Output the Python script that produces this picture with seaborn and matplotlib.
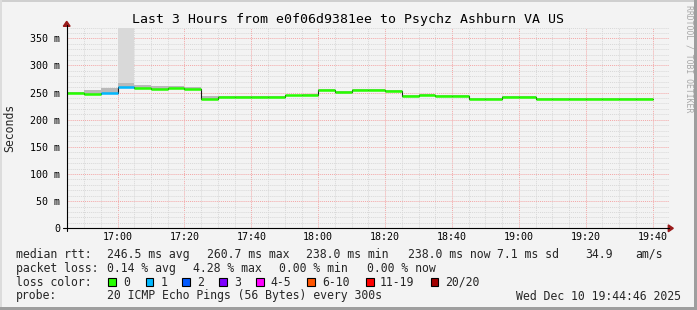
import numpy as np
import pandas as pd
import matplotlib
matplotlib.use("Agg")
import matplotlib.pyplot as plt
import matplotlib.dates as mdates
from matplotlib.lines import Line2D
from matplotlib.patches import Rectangle, Polygon
import seaborn as sns

# ---------------- data ----------------
day = "2025-12-10 "
interval_start = ["16:45", "16:50", "16:55", "17:00", "17:05", "17:10", "17:15", "17:20",
                  "17:25", "17:30", "17:35", "17:40", "17:45", "17:50", "17:55",
                  "18:00", "18:05", "18:10", "18:15", "18:20", "18:25", "18:30", "18:35", "18:40",
                  "18:45", "18:50", "18:55", "19:00", "19:05", "19:10", "19:15",
                  "19:20", "19:25", "19:30", "19:35"]
data_end = "19:40"
median_ms = [248.5, 246.8, 249.5, 260.7, 259.2, 257.4, 258.7, 256.3,
             238.9, 242.2, 242.8, 242.4, 242.8, 245.0, 246.4,
             255.0, 251.4, 254.5, 254.5, 253.2, 244.4, 246.2, 243.7, 243.7,
             239.0, 239.0, 241.8, 241.8, 239.0, 239.0, 239.0,
             238.0, 238.0, 238.0, 238.0]
smoke_top_ms = [252.0, 254.0, 258.0, 267.5, 264.0, 263.0, 263.0, 261.0,
                243.5, 244.0, 244.5, 244.0, 244.5, 246.5, 248.0,
                256.5, 253.0, 256.0, 256.0, 254.5, 246.0, 247.5, 245.0, 245.0,
                240.5, 240.5, 243.0, 243.0, 240.5, 240.5, 240.5,
                239.5, 239.5, 239.5, 239.5]
loss_pings = [0, 0, 1, 1, 0, 0, 0, 0,
              0, 0, 0, 0, 0, 0, 0,
              0, 0, 0, 0, 0, 0, 0, 0, 0,
              0, 0, 0, 0, 0, 0, 0,
              0, 0, 0, 0]
loss_band_start = ["17:00"]
loss_band_end = ["17:05"]
loss_band_bottom_ms = [268.0]

loss_labels = ["0", "1", "2", "3", "4-5", "6-10", "11-19", "20/20"]
loss_colors = ["#26ff00", "#00b8ff", "#0059ff", "#7e00ff", "#ff00ff", "#ff5500", "#ff0000", "#a10000"]

y_ticks = [0, 50, 100, 150, 200, 250, 300, 350]
y_tick_labels = ["0", "50 m", "100 m", "150 m", "200 m", "250 m", "300 m", "350 m"]

title = "Last 3 Hours from e0f06d9381ee to Psychz Ashburn VA US"
stats_rtt = ["246.5 ms avg", "260.7 ms max", "238.0 ms min", "238.0 ms now", "7.1 ms sd", "34.9", "am/s"]
stats_loss = ["0.14 % avg", "4.28 % max", "0.00 % min", "0.00 % now"]
probe_text = "20 ICMP Echo Pings (56 Bytes) every 300s"
date_text = "Wed Dec 10 19:44:46 2025"
view_start = "16:44:46"
view_end = "19:44:46"

# ---------------- setup ----------------
sns.set_theme(style="white")
plt.rcParams["font.family"] = ["DejaVu Sans Mono"]
BG = "#f3f3f3"
W, H = 697, 310

def fx(px):
    return px / W

def fy(py):
    return 1 - py / H

fig = plt.figure(figsize=(W / 100, H / 100), dpi=100, facecolor=BG)
ax = fig.add_axes([fx(66.7), fy(228.3), (668.5 - 66.7) / W, (228.3 - 27.5) / H])
ax.set_facecolor(BG)

t0 = pd.to_datetime([day + s for s in interval_start])
t_end_all = pd.to_datetime([day + s for s in interval_start[1:] + [data_end]])
med = np.array(median_ms)

ax.set_xlim(pd.Timestamp(day + view_start), pd.Timestamp(day + view_end))
ax.set_ylim(0, 370)

# grid
ax.set_yticks(y_ticks)
ax.set_yticklabels(y_tick_labels)
ax.set_yticks(np.arange(0, 371, 10), minor=True)
ax.xaxis.set_major_locator(mdates.MinuteLocator(byminute=[0, 20, 40]))
ax.xaxis.set_minor_locator(mdates.MinuteLocator(byminute=range(0, 60, 5)))
ax.xaxis.set_major_formatter(mdates.DateFormatter("%H:%M"))
ax.grid(which="minor", color="#d8d8d8", linestyle=(0, (1, 1)), linewidth=0.7)
ax.grid(which="major", color="#f4a6a6", linestyle=(0, (1, 1)), linewidth=0.7)
ax.set_axisbelow(True)
ax.tick_params(which="both", length=0, labelsize=7.2, colors="#000000")
ax.tick_params(axis="y", pad=4.8)
ax.tick_params(axis="x", pad=3.0)
for s in ax.spines.values():
    s.set_visible(False)

# loss band (lost pings smoke)
for s, e, b in zip(loss_band_start, loss_band_end, loss_band_bottom_ms):
    ax.fill_between([pd.Timestamp(day + s), pd.Timestamp(day + e)], [b, b], [370, 370],
                    color="#d9d9d9", linewidth=0, zorder=1)

# smoke
tx = list(t0) + [t_end_all[-1]]
ax.fill_between(tx, list(med) + [med[-1]], list(smoke_top_ms) + [smoke_top_ms[-1]],
                step="post", color="#b9b9b9", linewidth=0, zorder=2)

# black step line via seaborn
df = pd.DataFrame({"t": tx, "v": list(med) + [med[-1]]})
sns.lineplot(data=df, x="t", y="v", drawstyle="steps-post", color="#1a1a1a",
             linewidth=0.8, ax=ax, zorder=3)

# colored median by loss
def loss_idx(n):
    if n <= 3:
        return n
    if n <= 5:
        return 4
    if n <= 10:
        return 5
    if n <= 19:
        return 6
    return 7

ax.hlines(med, t0, t_end_all, colors=[loss_colors[loss_idx(n)] for n in loss_pings],
          linewidth=1.8, zorder=4)
ax.set_xlabel("")
ax.set_ylabel("")

# axes lines & arrows (figure coords)
axcol = "#000000"
arrow = "#991a1a"
fig.add_artist(Line2D([fx(66.7), fx(66.7)], [fy(231), fy(25)], color=axcol, lw=0.8))
fig.add_artist(Line2D([fx(63), fx(669)], [fy(228.3), fy(228.3)], color=axcol, lw=0.8))
fig.add_artist(Polygon([[fx(66.7), fy(21.3)], [fx(63.3), fy(26.3)], [fx(70.1), fy(26.3)]],
                       closed=True, color=arrow))
fig.add_artist(Polygon([[fx(673.3), fy(228.3)], [fx(668.3), fy(224.9)], [fx(668.3), fy(231.7)]],
                       closed=True, color=arrow))

# title, labels
fig.text(0.5, fy(19), title, ha="center", va="center", fontsize=9.5, color="#000000")
fig.text(fx(10), fy(127.5), "Seconds", rotation=90, ha="center", va="center", fontsize=8.3)
fig.text(fx(689), fy(59), "RRDTOOL / TOBI OETIKER", rotation=270, ha="center", va="center",
         fontsize=5.9, color="#a8a8a8")

# legend rows
fs = 8.3
r1, r2, r3, r4 = 254.3, 268.3, 282.2, 296.0
fig.text(fx(16), fy(r1), "median rtt:", ha="left", va="center", fontsize=fs)
for x, s in zip([107.3, 207.3, 306.5, 408.3, 496.7, 585.0, 635.0], stats_rtt):
    fig.text(fx(x), fy(r1), s, ha="left", va="center", fontsize=fs)
fig.text(fx(16), fy(r2), "packet loss:", ha="left", va="center", fontsize=fs)
for x, s in zip([107.3, 193.3, 279.3, 366.7], stats_loss):
    fig.text(fx(x), fy(r2), s, ha="left", va="center", fontsize=fs)
fig.text(fx(16), fy(r3), "loss color:", ha="left", va="center", fontsize=fs)
box_x = [108.3, 145.7, 182.3, 219.0, 256.0, 307.3, 366.0, 430.7]
lab_x = [123.3, 160.7, 197.3, 234.0, 270.0, 322.3, 380.0, 445.0]
for bx, lx, lab, c in zip(box_x, lab_x, loss_labels, loss_colors):
    fig.add_artist(Rectangle((fx(bx), fy(r3 + 3.8)), 7.7 / W, 7.7 / H, facecolor=c,
                             edgecolor="#000000", linewidth=0.8))
    fig.text(fx(lx), fy(r3), lab, ha="left", va="center", fontsize=fs)
fig.text(fx(16), fy(r4), "probe:", ha="left", va="center", fontsize=fs)
fig.text(fx(107.3), fy(r4), probe_text, ha="left", va="center", fontsize=fs)
fig.text(fx(680.5), fy(r4), date_text, ha="right", va="center", fontsize=fs)

# frame shading
fig.add_artist(Rectangle((0, fy(2)), 1, 2 / H, facecolor="#cfcfcf", edgecolor="none"))
fig.add_artist(Rectangle((0, 0), 2 / W, 1, facecolor="#dcdcdc", edgecolor="none"))
fig.add_artist(Rectangle((0, 0), 1, 3 / H, facecolor="#9e9e9e", edgecolor="none"))
fig.add_artist(Rectangle((fx(694), 0), 3 / W, 1, facecolor="#9e9e9e", edgecolor="none"))

fig.savefig("out.png", dpi=100, facecolor=BG)
